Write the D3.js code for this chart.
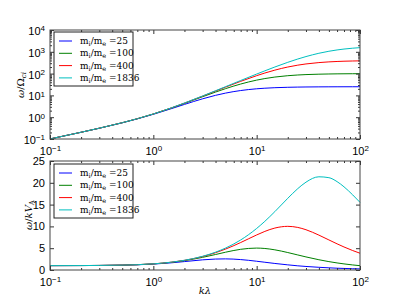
<!DOCTYPE html>
<html>
<head>
<meta charset="utf-8">
<script src="https://cdn.jsdelivr.net/npm/d3@7"></script>
<style>
  body { margin: 0; background: white; }
</style>
</head>
<body>
<script>
'use strict';

// k*lambda sample points
const kVals = [0.1, 0.2, 0.3, 0.5, 0.7, 1, 1.5, 2, 3, 4, 5, 7, 10, 12, 15, 20, 25, 30, 40, 50, 60, 70, 85, 100];

// mass ratio labels for the legend
const massRatios = ['25', '100', '400', '1836'];
const lineColors = ['#0000ff', '#008000', '#ff0000', '#00bfbf'];

// top panel: omega / Omega_ci
const omega25 = [0.1005, 0.2036, 0.3121, 0.5535, 0.838, 1.360, 2.481, 3.855, 6.976, 10.06, 12.75, 16.72, 20.10, 21.38, 22.55, 23.56, 24.06, 24.34, 24.62, 24.75, 24.83, 24.88, 24.92, 24.94];
const omega100 = [0.1005, 0.2039, 0.3129, 0.5576, 0.8503, 1.400, 2.645, 4.300, 8.704, 14.22, 20.40, 33.22, 50.25, 59.22, 69.38, 80.10, 86.28, 90.05, 94.14, 96.18, 97.31, 98.01, 98.64, 99.01];
const omega400 = [0.1005, 0.2039, 0.3131, 0.5587, 0.8534, 1.411, 2.689, 4.428, 9.278, 15.86, 24.00, 44.10, 80.40, 106.3, 144.3, 200.3, 244.1, 277.1, 320.1, 344.9, 360.0, 369.8, 379.0, 384.6];
const omega1836 = [0.1005, 0.2040, 0.3132, 0.5589, 0.8543, 1.413, 2.701, 4.462, 9.441, 16.35, 25.15, 48.21, 95.31, 134.0, 200.9, 328.9, 466.7, 604.3, 855.2, 1058.8, 1216.0, 1335.7, 1464.0, 1551.3];

// bottom panel: omega / k V_A
const phase25 = [1.00, 1.02, 1.04, 1.11, 1.20, 1.36, 1.65, 1.93, 2.33, 2.51, 2.55, 2.39, 2.01, 1.78, 1.50, 1.18, 0.96, 0.81, 0.62, 0.50, 0.41, 0.36, 0.29, 0.25];
const phase100 = [1.005, 1.019, 1.043, 1.115, 1.215, 1.400, 1.763, 2.150, 2.901, 3.554, 4.079, 4.746, 5.025, 4.935, 4.626, 4.005, 3.451, 3.002, 2.354, 1.924, 1.622, 1.400, 1.161, 0.990];
const phase400 = [1.005, 1.020, 1.044, 1.117, 1.219, 1.411, 1.793, 2.214, 3.093, 3.965, 4.799, 6.299, 8.040, 8.854, 9.621, 10.013, 9.764, 9.236, 8.002, 6.898, 6.001, 5.284, 4.459, 3.846];
const phase1836 = [1.005, 1.020, 1.044, 1.118, 1.220, 1.413, 1.801, 2.231, 3.147, 4.088, 5.031, 6.887, 9.531, 11.166, 13.392, 16.443, 18.666, 20.143, 21.380, 21.176, 20.267, 19.082, 17.224, 15.513];

// tick values
const xMajor = [0.1, 1, 10, 100];
const xExp = ['-1', '0', '1', '2'];
const yTopMajor = [0.1, 1, 10, 100, 1000, 10000];
const yTopExp = ['-1', '0', '1', '2', '3', '4'];
const yBotTicks = [0, 5, 10, 15, 20, 25];

let svg = '';

window.onload = function() {
  svg = d3.select('body')
    .append('svg')
    .attr('width', 400)
    .attr('height', 300)
    .style('font-family', '"DejaVu Sans", sans-serif');

  let x = d3.scaleLog().domain([0.1, 100]).range([50, 360]);

  // top panel
  let yTop = d3.scaleLog().domain([0.1, 10000]).range([139, 30]);
  plotData(x, yTop, [omega25, omega100, omega400, omega1836]);
  drawAxes(x, yTop, true);
  makeLegend(54, 32);

  // bottom panel
  let yBot = d3.scaleLinear().domain([0, 25]).range([270, 161]);
  plotData(x, yBot, [phase25, phase100, phase400, phase1836]);
  drawAxes(x, yBot, false);
  makeLegend(54, 164);

  makeLabels();
};

// minor tick values for a log range
function logMinors(lo, hi) {
  let out = [];
  for (let p = lo; p < hi; p++) {
    for (let m = 2; m <= 9; m++) out.push(m * Math.pow(10, p));
  }
  return out;
}

// write "10^exp" into a text node
function powerLabel(sel, exps) {
  sel.each(function(d, i) {
    let t = d3.select(this).text('');
    t.append('tspan').text('10');
    t.append('tspan')
      .attr('dy', '-0.45em')
      .style('font-size', '8px')
      .text(exps[i].replace('-', '\u2212'));
  });
}

function drawAxes(x, y, isLog) {
  let r = x.range();
  let yr = y.range();
  let left = r[0], right = r[1], bottom = yr[0], top = yr[1];

  // major x ticks, bottom and top
  let xb = svg.append('g').attr('transform', `translate(0,${bottom})`)
    .call(d3.axisBottom(x).tickValues(xMajor).tickSizeInner(-4).tickSizeOuter(0).tickPadding(6));
  xb.selectAll('text').style('font-size', '11px').attr('fill', 'black').attr('dy', '0.9em');
  powerLabel(xb.selectAll('text'), xExp);
  svg.append('g').attr('transform', `translate(0,${top})`)
    .call(d3.axisTop(x).tickValues(xMajor).tickSizeInner(-4).tickSizeOuter(0).tickFormat(''));
  svg.append('g').attr('transform', `translate(0,${bottom})`)
    .call(d3.axisBottom(x).tickValues(logMinors(-1, 2)).tickSizeInner(-2).tickSizeOuter(0).tickFormat(''));
  svg.append('g').attr('transform', `translate(0,${top})`)
    .call(d3.axisTop(x).tickValues(logMinors(-1, 2)).tickSizeInner(-2).tickSizeOuter(0).tickFormat(''));

  if (isLog) {
    let yl = svg.append('g').attr('transform', `translate(${left},0)`)
      .call(d3.axisLeft(y).tickValues(yTopMajor).tickSizeInner(-4).tickSizeOuter(0).tickPadding(5));
    yl.selectAll('text').style('font-size', '11px').attr('fill', 'black').attr('dy', '0.4em');
    powerLabel(yl.selectAll('text'), yTopExp);
    svg.append('g').attr('transform', `translate(${right},0)`)
      .call(d3.axisRight(y).tickValues(yTopMajor).tickSizeInner(-4).tickSizeOuter(0).tickFormat(''));
    svg.append('g').attr('transform', `translate(${left},0)`)
      .call(d3.axisLeft(y).tickValues(logMinors(-1, 4)).tickSizeInner(-2).tickSizeOuter(0).tickFormat(''));
    svg.append('g').attr('transform', `translate(${right},0)`)
      .call(d3.axisRight(y).tickValues(logMinors(-1, 4)).tickSizeInner(-2).tickSizeOuter(0).tickFormat(''));
  } else {
    let yl = svg.append('g').attr('transform', `translate(${left},0)`)
      .call(d3.axisLeft(y).tickValues(yBotTicks).tickSizeInner(-4).tickSizeOuter(0).tickPadding(5));
    yl.selectAll('text').style('font-size', '11px').attr('fill', 'black');
    svg.append('g').attr('transform', `translate(${right},0)`)
      .call(d3.axisRight(y).tickValues(yBotTicks).tickSizeInner(-4).tickSizeOuter(0).tickFormat(''));
  }

  svg.selectAll('.domain').remove();
  svg.selectAll('.tick line').attr('stroke', '#333');

  // frame
  svg.append('rect')
    .attr('x', left)
    .attr('y', top)
    .attr('width', right - left)
    .attr('height', bottom - top)
    .attr('fill', 'none')
    .attr('stroke', '#444')
    .attr('stroke-width', 1);
}

function plotData(x, y, series) {
  let line = d3.line()
    .x((d) => x(d[0]))
    .y((d) => y(d[1]))
    .curve(d3.curveMonotoneX);

  series.forEach(function(vals, i) {
    svg.append('path')
      .datum(kVals.map((k, j) => [k, vals[j]]))
      .attr('d', line)
      .attr('fill', 'none')
      .attr('stroke', lineColors[i])
      .attr('stroke-width', 1);
  });
}

function makeLegend(x0, y0) {
  let g = svg.append('g').attr('transform', `translate(${x0},${y0})`);
  g.append('rect')
    .attr('width', 79)
    .attr('height', 54)
    .attr('fill', 'white')
    .attr('stroke', '#222')
    .attr('stroke-width', 1);

  massRatios.forEach(function(m, i) {
    let yy = 9 + i * 12.3;
    g.append('line')
      .attr('x1', 5).attr('x2', 18)
      .attr('y1', yy).attr('y2', yy)
      .attr('stroke', lineColors[i])
      .attr('stroke-width', 1);
    let t = g.append('text')
      .attr('x', 26)
      .attr('y', yy + 3)
      .style('font-family', '"DejaVu Serif", serif')
      .style('font-size', '9px');
    t.append('tspan').text('m');
    t.append('tspan').attr('dy', 2).style('font-size', '6.5px').text('i');
    t.append('tspan').attr('dy', -2).text('/m');
    t.append('tspan').attr('dy', 2).style('font-size', '6.5px').text('e');
    t.append('tspan').attr('dy', -2).text(' =' + m);
  });
}

function makeLabels() {
  // y label top
  let t1 = svg.append('text')
    .attr('transform', 'translate(24, 85)rotate(-90)')
    .attr('text-anchor', 'middle')
    .style('font-family', '"DejaVu Serif", serif')
    .style('font-size', '10px');
  t1.append('tspan').style('font-style', 'italic').text('\u03c9');
  t1.append('tspan').text('/\u03a9');
  t1.append('tspan').attr('dy', 2).style('font-size', '7px').style('font-style', 'italic').text('ci');

  // y label bottom
  let t2 = svg.append('text')
    .attr('transform', 'translate(32, 215)rotate(-90)')
    .attr('text-anchor', 'middle')
    .style('font-family', '"DejaVu Serif", serif')
    .style('font-size', '10px');
  t2.append('tspan').style('font-style', 'italic').text('\u03c9');
  t2.append('tspan').text('/');
  t2.append('tspan').style('font-style', 'italic').text('kV');
  t2.append('tspan').attr('dy', 2).style('font-size', '7px').text('A');

  // x label
  svg.append('text')
    .attr('x', 205)
    .attr('y', 294)
    .attr('text-anchor', 'middle')
    .style('font-family', '"DejaVu Serif", serif')
    .style('font-style', 'italic')
    .style('font-size', '10px')
    .text('k\u03bb');
}
</script>
</body>
</html>
